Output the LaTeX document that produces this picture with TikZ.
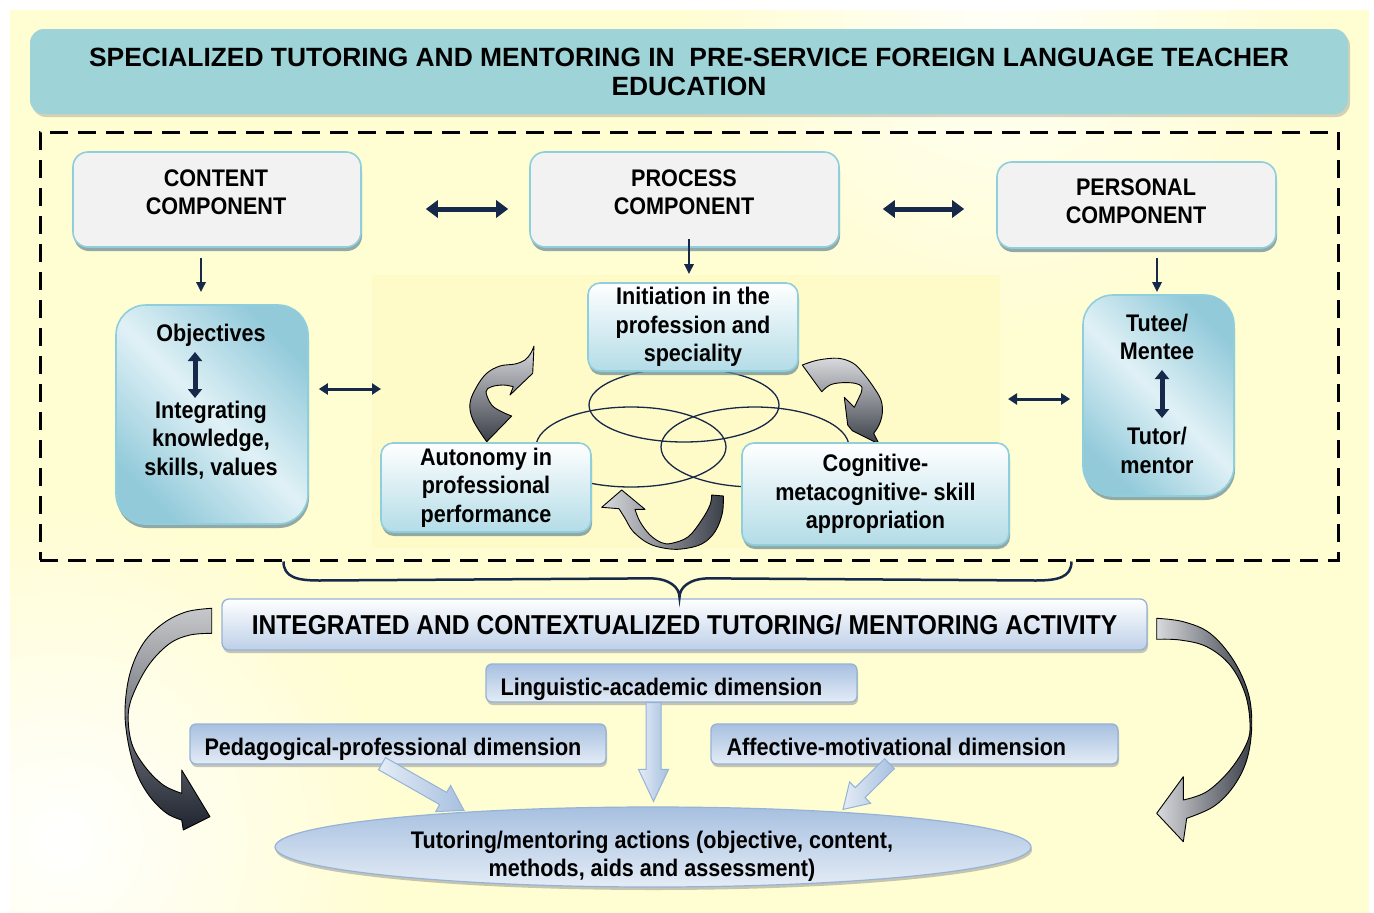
\documentclass[tikz,border=0pt]{standalone}
\usepackage{fontspec}
\setmainfont{Liberation Sans}
\newfontfamily\nf[FakeStretch=0.9]{Liberation Sans}
\usetikzlibrary{calc,shadows,arrows.meta,shapes.geometric}

\definecolor{navy}{HTML}{17294A}
\definecolor{bgyel}{HTML}{FFFDD2}
\definecolor{cyc}{HTML}{FFFBC8}
\definecolor{titlefill}{HTML}{9ED3D7}
\definecolor{compfill}{HTML}{F2F2F2}
\definecolor{aqua}{HTML}{8FCEDD}
\definecolor{aqualight}{HTML}{E0F1F6}
\definecolor{aquadark}{HTML}{92CADA}
\definecolor{aquabot}{HTML}{B3DCE7}
\definecolor{steel}{HTML}{95B3D7}
\definecolor{steellight}{HTML}{E4ECF6}
\definecolor{steeldark}{HTML}{A7C0E0}
\definecolor{shadowc}{HTML}{6E8E96}
\definecolor{galight}{HTML}{D8DADD}
\definecolor{gadark}{HTML}{3B3F48}
\definecolor{gablack}{HTML}{1F2430}

\tikzset{
  txt/.style={font=\nf\bfseries\fontsize{24}{28.5}\selectfont, align=center, inner sep=0pt},
  shad/.style={drop shadow={shadow xshift=1pt, shadow yshift=-4pt, fill=shadowc, opacity=.75}},
  comp/.style={draw=aqua, line width=1.6pt, fill=compfill, rounded corners=15pt, inner sep=0pt, shad},
  pill/.style={draw=aqua, line width=1.6pt, rounded corners=30pt, inner sep=0pt,
    top color=aquadark, bottom color=aquadark, middle color=aqualight, shading angle=-45, shad},
  stage/.style={txt, draw=aqua, line width=1.6pt, rounded corners=12pt, top color=white, bottom color=aquabot, shad},
  dim/.style={draw=steel, line width=1.3pt, rounded corners=6pt, top color=steeldark, bottom color=steellight, inner sep=0pt,
    drop shadow={shadow xshift=1pt, shadow yshift=-3pt, fill=black!45, opacity=.5}},
  bigdbl/.style={navy, line width=5pt, {Triangle[length=12pt,width=17pt]}-{Triangle[length=12pt,width=17pt]}},
  middbl/.style={navy, line width=3pt, {Triangle[length=9pt,width=11pt]}-{Triangle[length=9pt,width=11pt]}},
  vdbl/.style={navy, line width=5pt, {Triangle[length=9pt,width=14pt]}-{Triangle[length=9pt,width=14pt]}},
  down/.style={navy, line width=2.5pt, -{Triangle[length=10pt,width=9pt]}},
  loop/.style={navy, line width=1.3pt},
  grayarrow/.style={draw=black, line width=0.9pt, line join=round},
  barrow/.style={draw=steel, line width=1pt, left color=steellight, right color=steeldark},
}

% block arrow: from, to, half shaft width, half head width, head length
\newcommand\blockarrow[5]{%
  \coordinate (hb) at ($(#2)!#5!(#1)$);
  \shadedraw[barrow] ($(#1)!#3!90:(#2)$) -- ($(hb)!#3!90:(#2)$) -- ($(hb)!#4!90:(#2)$) -- (#2)
    -- ($(hb)!#4!-90:(#2)$) -- ($(hb)!#3!-90:(#2)$) -- ($(#1)!#3!-90:(#2)$) -- cycle;
}

\begin{document}
\begin{tikzpicture}[x=1pt,y=-1pt]
\useasboundingbox (0,0) rectangle (1374,913);

% page background
\begin{scope}
  \clip (10,10) rectangle (1369,913);
  \fill[bgyel] (10,10) rectangle (1369,913);
  \shade[inner color=white, outer color=bgyel] (60,840) circle (330pt);
  \shade[inner color=white!85!bgyel, outer color=bgyel] (1000,10) circle (320pt);
\end{scope}
\fill[cyc] (372,275) rectangle (1000,548);

% title banner
\node[draw=none, fill=titlefill, rounded corners=14pt, minimum width=1318pt, minimum height=85pt, inner sep=0pt,
  font=\bfseries\fontsize{26.4}{29}\selectfont, align=center,
  drop shadow={shadow xshift=2pt, shadow yshift=-3pt, fill=black!50, opacity=.35}] (title) at (689,71.5)
  {SPECIALIZED TUTORING AND MENTORING IN \ PRE-SERVICE FOREIGN LANGUAGE TEACHER\\EDUCATION};

% dashed frame
\node[draw=black, line width=3pt, dash pattern=on 18pt off 10pt, minimum width=1298pt, minimum height=428pt, inner sep=0pt] (frame) at (689,346) {};

% overlapping loops of the cycle
\draw[loop] (684,405) ellipse [x radius=95pt, y radius=37pt];
\draw[loop] (631,447) ellipse [x radius=95pt, y radius=40pt];
\draw[loop] (755,447) ellipse [x radius=94pt, y radius=40pt];

% curved arrows of the cycle
\shadedraw[grayarrow, top color=galight, bottom color=gadark]
  plot[smooth, tension=0.6] coordinates {(486.7,441.7)(473,420)(470,403)(476.7,386.7)(486.7,373.3)(500,366)(515,364)(525,360)(530.7,353.3)(534,346)}
  -- (532.7,373.3) -- (510,395)
  -- plot[smooth, tension=0.6] coordinates {(513.3,386.7)(503.3,385)(491.7,386.7)(486,391.7)(491.7,405)(501.7,411.7)(511.7,416)}
  -- cycle;
\shadedraw[grayarrow, top color=galight, bottom color=gadark]
  plot[smooth, tension=0.6] coordinates {(802.3,365)(818.3,360)(838.3,358.3)(853.3,363.3)(863.3,373.3)(873.3,386.7)(881,400)(882.3,413.3)(879,425)(873.7,433.3)}
  -- (879,444) -- (852.3,430.7) -- (847.7,425) -- (844.3,397.3) -- (854.3,407.3)
  -- plot[smooth, tension=0.6] coordinates {(861,393.3)(861.7,386.7)(855,383.3)(841.7,382.7)(830,385)(821.7,391.7)}
  -- cycle;
\shadedraw[grayarrow, left color=galight, right color=gadark]
  (621.7,490) -- (645,509.3) -- (635,509.3)
  -- plot[smooth, tension=0.6] coordinates {(635,509.3)(640,521.7)(650,535)(661.7,542.7)(671.7,543.3)(688.3,536.7)(701.7,520)(710,505)(711.7,495)}
  -- plot[smooth, tension=0.6] coordinates {(723.3,496)(722.3,513.3)(715,531.7)(701.7,544)(681.7,549)(665,548.3)(648.3,543.3)(633.3,531.7)(625,518.3)(619,508.7)}
  -- (601.7,507.3) -- cycle;

% component boxes
\node[comp, minimum width=288pt, minimum height=95pt] (content) at (217,199.5) {};
\node[txt] (contentT) at (216,192) {CONTENT\\COMPONENT};
\node[comp, minimum width=309pt, minimum height=95pt] (process) at (684.5,199.5) {};
\node[txt] (processT) at (684,192) {PROCESS\\COMPONENT};
\node[comp, minimum width=279pt, minimum height=86pt] (personal) at (1136.5,205) {};
\node[txt] (personalT) at (1136,201) {PERSONAL\\COMPONENT};

% content and personal details
\node[pill, minimum width=192pt, minimum height=219pt] (objectives) at (212,414.5) {};
\node[txt] (objT1) at (211,335.5) {Objectives};
\node[txt] (objT2) at (211,440) {Integrating\\knowledge,\\skills, values};
\coordinate (oA) at (195,352);
\coordinate (oB) at (195,398);
\draw[vdbl] (oA) -- (oB);

\node[pill, minimum width=151pt, minimum height=201pt] (tutee) at (1158.5,395.5) {};
\node[txt] (tuteeT1) at (1157,337) {Tutee/\\Mentee};
\node[txt] (tuteeT2) at (1157,450.5) {Tutor/\\mentor};
\coordinate (tA) at (1162,370);
\coordinate (tB) at (1162,418);
\draw[vdbl] (tA) -- (tB);

% process stages
\node[stage, minimum width=210pt, minimum height=88pt] (initiation) at (693,327) {Initiation in the\\profession and\\speciality};
\node[stage, minimum width=210pt, minimum height=89pt] (autonomy) at (486,487.5) {Autonomy in\\professional\\performance};
\node[stage, minimum width=267pt, minimum height=102pt] (cognitive) at (875.5,494) {Cognitive-\\metacognitive- skill\\appropriation};

% connectors between components
\draw[bigdbl] ($(content.east)+(64,9.5)$) -- ($(process.west)+(-21,9.5)$);
\draw[bigdbl] ($(process.east)+(43,9.5)$) -- ($(personal.west)+(-32,4)$);
\draw[down] ($(content.south)+(-16,10)$) -- ($(objectives.north)+(-11,-12)$);
\draw[down] ($(process.south)+(4.5,-9)$) -- ($(initiation.north)+(-4,-8)$);
\draw[down] ($(personal.south)+(20.5,9)$) -- ($(tutee.north)+(-1.5,-2)$);
\coordinate (cycW) at (381,389);
\coordinate (cycE) at (1008,399);
\draw[middbl] ($(objectives.east)+(10,-25.5)$) -- (cycW);
\draw[middbl] (cycE) -- ($(tutee.west)+(-12,3.5)$);

% activity and its dimensions
\node[txt, font=\nf\bfseries\fontsize{27.3}{30}\selectfont, draw=steel, line width=1.3pt, rounded corners=7pt,
  top color=white, bottom color=steeldark!75!white, minimum width=925pt, minimum height=51pt,
  drop shadow={shadow xshift=1pt, shadow yshift=-3pt, fill=black!45, opacity=.5}] (integrated) at (684.5,624.5)
  {INTEGRATED AND CONTEXTUALIZED TUTORING/ MENTORING ACTIVITY};

% brace gathering the three components
\coordinate (brL) at ($(frame.south west)+(245,0)$);
\coordinate (brR) at ($(frame.south west)+(1033,0)$);
\coordinate (brT) at ($(integrated.north)+(-5,-1)$);
\draw[navy, line width=2.5pt] (brL) .. controls +(0,16) and +(-22,0) .. ($(brL)+(36,19)$)
  -- ($(brT)+(-30,-19)$) .. controls +(20,0) and +(0,-10) .. (brT)
  .. controls +(0,-10) and +(-20,0) .. ($(brT)+(30,-19)$)
  -- ($(brR)+(-36,19)$) .. controls +(22,0) and +(0,16) .. (brR);

\node[dim, minimum width=371pt, minimum height=38pt] (linguistic) at (671.5,683) {};
\node[txt, anchor=west] (linguisticT) at ($(linguistic.west)+(15,6.5)$) {Linguistic-academic dimension};
\node[dim, minimum width=416pt, minimum height=40pt] (pedagogical) at (398,744) {};
\node[txt, anchor=west] (pedagogicalT) at ($(pedagogical.west)+(15,5.5)$) {Pedagogical-professional dimension};
\node[dim, minimum width=407pt, minimum height=40pt] (affective) at (914.5,744) {};
\node[txt, anchor=west] (affectiveT) at ($(affective.west)+(16,2.5)$) {Affective-motivational dimension};

\node[ellipse, draw=steel, line width=1.2pt, top color=steeldark, bottom color=steellight, minimum width=756pt, minimum height=80pt, inner sep=0pt,
  drop shadow={shadow xshift=1pt, shadow yshift=-3pt, fill=black!45, opacity=.5}] (actions) at (653,847) {};
\node[txt] (actionsT) at (652,856.5) {Tutoring/mentoring actions (objective, content,\\methods, aids and assessment)};

% block arrows into the actions
\coordinate (lA) at ($(linguistic.south)+(-18,0)$);
\coordinate (lB) at ($(actions.north)+(0.5,-5)$);
\coordinate (pA) at ($(pedagogical.south)+(-16,-1)$);
\coordinate (pB) at ($(actions.north)+(-189,4)$);
\coordinate (aA) at ($(affective.south)+(-25,-1)$);
\coordinate (aB) at ($(actions.north)+(190,3)$);
\blockarrow{lA}{lB}{7.5pt}{15pt}{32pt}
\blockarrow{pA}{pB}{7pt}{15pt}{24pt}
\blockarrow{aA}{aB}{7pt}{15pt}{24pt}

% large side arrows
\shadedraw[grayarrow, top color=galight!80!gray, bottom color=gablack]
  (211.7,608.3) -- (211.7,633.3)
  -- plot[smooth, tension=0.6] coordinates {(211.7,633.3)(190,635)(170,643.3)(150,663.3)(135,690)(128.3,713.3)(131.7,743.3)(145,766.7)(163.3,785)(181.7,793.3)}
  -- (181.7,770) -- (210,816.7) -- (183.3,830) -- (181.7,820)
  -- plot[smooth, tension=0.6] coordinates {(181.7,820)(166.7,813.3)(150,796.7)(136.7,773.3)(128.3,743.3)(125,710)(130,673.3)(143.3,643.3)(163.3,623.3)(186.7,611.7)(211.7,608.3)}
  -- cycle;
\shadedraw[grayarrow, left color=galight, right color=gadark]
  plot[smooth, tension=0.6] coordinates {(1156.7,618.3)(1183.3,621.7)(1210,633.3)(1233.3,660)(1248.3,693.3)(1251.7,726.7)(1246.7,760)(1233.3,786.7)(1213.3,806.7)(1186.7,818.3)}
  -- (1183.3,841.7) -- (1156.7,813.3) -- (1183.3,776.7) -- (1183.3,800)
  -- plot[smooth, tension=0.6] coordinates {(1183.3,800)(1206.7,791.7)(1230,770)(1246.7,743.3)(1250,723.3)(1245,693.3)(1230,665)(1206.7,646.7)(1180,640)(1156.7,639.3)}
  -- cycle;
\end{tikzpicture}
\end{document}
